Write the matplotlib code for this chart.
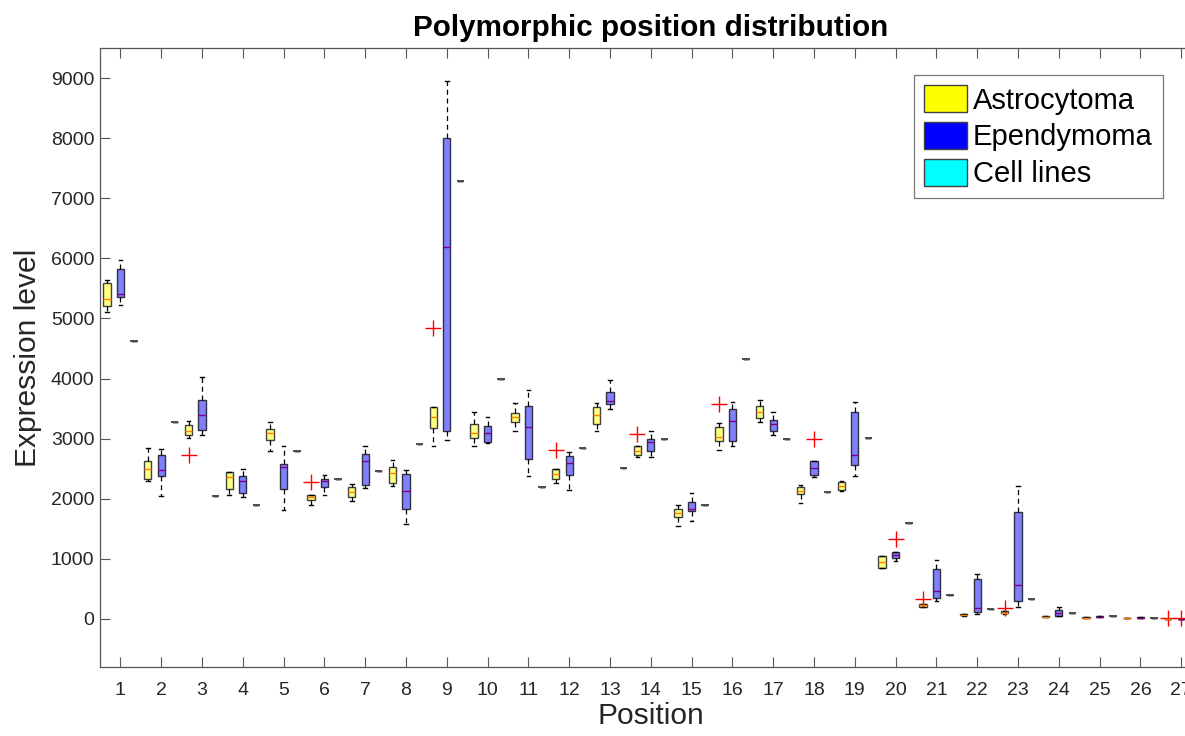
import matplotlib
matplotlib.use('Agg')
import numpy as np
import matplotlib.pyplot as plt
from matplotlib.patches import Patch

plt.rcParams['font.family'] = ['Liberation Sans', 'DejaVu Sans']

positions = np.arange(1, 28)

# Astrocytoma: lower whisker, Q1, median, Q3, upper whisker, outliers
astro_lo = [5110, 2290, 3010, 2060, 2800, 1900, 1960, 2210, 2870, 2870, 3130, 2270, 3120, 2690,
            1550, 2810, 3270, 1935, 2130, 840, 200, 50, 85, 30, 18, 8, 2]
astro_q1 = [5200, 2330, 3060, 2160, 2970, 1985, 2035, 2270, 3170, 3010, 3270, 2320, 3240, 2720,
            1690, 2960, 3340, 2080, 2150, 850, 205, 58, 92, 33, 20, 9, 3]
astro_med = [5320, 2490, 3130, 2360, 3100, 2025, 2110, 2430, 3360, 3090, 3360, 2410, 3390, 2795,
             1770, 3020, 3450, 2135, 2210, 940, 228, 67, 105, 39, 22, 11, 4]
astro_q3 = [5590, 2630, 3220, 2450, 3160, 2060, 2190, 2520, 3530, 3245, 3430, 2500, 3530, 2870,
            1830, 3190, 3540, 2190, 2280, 1040, 250, 78, 125, 44, 25, 13, 5]
astro_hi = [5640, 2850, 3300, 2450, 3280, 2060, 2250, 2650, 3530, 3450, 3590, 2500, 3590, 2870,
            1900, 3260, 3640, 2230, 2300, 1050, 255, 85, 130, 46, 27, 14, 6]
astro_out = [[], [], [2730], [], [], [2285], [], [], [4840], [], [], [2810], [], [3070],
             [], [3570], [], [], [], [], [330], [], [190], [], [], [], [12]]

# Ependymoma
epen_lo = [5225, 2040, 3060, 2025, 1815, 2070, 2185, 1580, 2970, 2930, 2370, 2145, 3490, 2700,
           1630, 2880, 3060, 2355, 2370, 965, 290, 85, 205, 50, 25, 15, 2]
epen_q1 = [5350, 2370, 3140, 2090, 2160, 2190, 2230, 1835, 3130, 2940, 2660, 2395, 3575, 2795,
           1795, 2965, 3135, 2395, 2560, 1010, 345, 110, 300, 50, 30, 18, 3]
epen_med = [5410, 2480, 3400, 2290, 2530, 2290, 2635, 2135, 6195, 3100, 3200, 2600, 3625, 2940,
            1825, 3295, 3245, 2515, 2730, 1065, 465, 180, 565, 95, 39, 22, 4]
epen_q3 = [5820, 2730, 3640, 2370, 2570, 2335, 2750, 2405, 8010, 3215, 3550, 2710, 3770, 2995,
           1940, 3495, 3310, 2620, 3435, 1120, 825, 660, 1775, 150, 48, 26, 5]
epen_hi = [5970, 2830, 4030, 2490, 2880, 2400, 2870, 2480, 8950, 3355, 3810, 2775, 3975, 3135,
           2090, 3615, 3450, 2620, 3615, 1120, 980, 745, 2220, 205, 52, 28, 6]
epen_out = [[], [], [], [], [], [], [], [], [], [], [], [], [], [],
            [], [], [], [3000], [], [1325], [], [], [], [], [], [], [12]]

# Cell lines (single value per position)
cell_val = [4625, 3285, 2040, 1890, 2800, 2320, 2455, 2910, 7285, 3995, 2200, 2850, 2505, 2995,
            1890, 4330, 2995, 2120, 3010, 1590, 400, 160, 330, 105, 44, 22, 10]

group_names = ['Astrocytoma', 'Ependymoma', 'Cell lines']
legend_colors = ['#ffff00', '#0000ff', '#00ffff']


def make_stats(lo, q1, med, q3, hi, out):
    return [dict(whislo=a, q1=b, med=c, q3=d, whishi=e, fliers=f)
            for a, b, c, d, e, f in zip(lo, q1, med, q3, hi, out)]


fig = plt.figure(figsize=(11.85, 7.36), dpi=100)
ax = fig.add_axes([100 / 1185, 69 / 736, 1101.6 / 1185, 619 / 736])

common = dict(widths=0.18, patch_artist=True, manage_ticks=False, capwidths=0.09,
              whiskerprops=dict(color='black', linestyle=(0, (4, 3)), linewidth=0.9),
              capprops=dict(color='black', linewidth=1.0),
              flierprops=dict(marker='+', markeredgecolor='red', markersize=11,
                              markeredgewidth=1.0, linestyle='none'))

ax.bxp(make_stats(astro_lo, astro_q1, astro_med, astro_q3, astro_hi, astro_out),
       positions=positions - 0.33,
       boxprops=dict(facecolor='#ffff80', edgecolor='#404040', linewidth=1.0),
       medianprops=dict(color='#ff8000', linewidth=1.0), **common)

ax.bxp(make_stats(epen_lo, epen_q1, epen_med, epen_q3, epen_hi, epen_out),
       positions=positions,
       boxprops=dict(facecolor='#8080ff', edgecolor='#303040', linewidth=1.0),
       medianprops=dict(color='#800080', linewidth=1.0), **common)

ax.bxp(make_stats(cell_val, cell_val, cell_val, cell_val, cell_val, [[]] * len(cell_val)),
       positions=positions + 0.33,
       boxprops=dict(facecolor='none', edgecolor='#505050', linewidth=1.4),
       medianprops=dict(color='#505050', linewidth=1.4), **common)

ax.set_xlim(0.5, 27.5)
ax.set_ylim(-800, 9500)
ax.set_xticks(positions)
ax.set_xticklabels([str(p) for p in positions])
ax.set_yticks(np.arange(0, 9001, 1000))

for side in ['left', 'top', 'bottom', 'right']:
    ax.spines[side].set_color('#555555')
    ax.spines[side].set_linewidth(0.9)
ax.tick_params(axis='both', direction='in', length=7, width=0.8, color='#555555',
               labelsize=14, labelcolor='#262626')
ax.tick_params(axis='x', top=True, pad=11)
ax.tick_params(axis='y', right=True, pad=4)

ax.set_title('Polymorphic position distribution', fontsize=21.3, fontweight='bold', pad=9)
ax.set_xlabel('Position', fontsize=21.6, color='#262626', labelpad=2)
ax.set_ylabel('Expression level', fontsize=21.6, color='#262626', labelpad=6)

handles = [Patch(facecolor=c, edgecolor='#404040', linewidth=1.0) for c in legend_colors]
leg = ax.legend(handles, group_names, loc='upper left', bbox_to_anchor=(914 / 1185, 1 - 75 / 736),
                bbox_transform=fig.transFigure, fontsize=21, frameon=True, fancybox=False,
                handlelength=1.45, handleheight=1.05, handletextpad=0.22, labelspacing=0.25,
                borderpad=0.35, borderaxespad=0)
leg.get_frame().set_edgecolor('#555555')
leg.get_frame().set_linewidth(0.9)

fig.savefig('out.png', dpi=100)
